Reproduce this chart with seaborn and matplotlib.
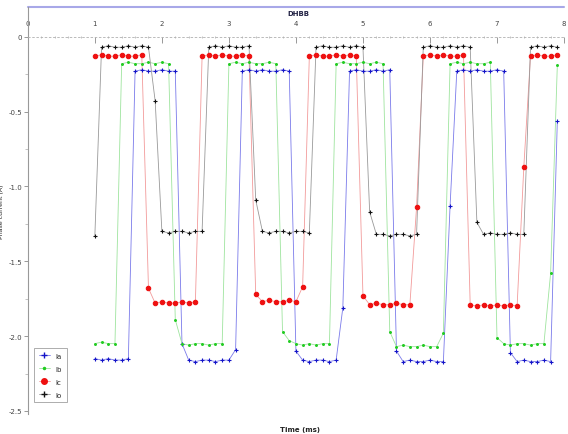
import numpy as np
import pandas as pd
import seaborn as sns
import matplotlib
matplotlib.use('Agg')
import matplotlib.pyplot as plt
from matplotlib.lines import Line2D

# sample times (s), one sample every 0.1 s
t = np.round(np.arange(1.0, 8.0, 0.1), 1)

series_names = ['Ia', 'Ib', 'Ic', 'Io']

ia = [-2.15, -2.16, -2.15, -2.16, -2.16, -2.15,
      -0.23, -0.22, -0.23, -0.23, -0.22, -0.23, -0.23,
      -2.05,
      -2.16, -2.17, -2.16, -2.16, -2.17, -2.16, -2.16,
      -2.09,
      -0.23, -0.22, -0.23, -0.22, -0.23, -0.23, -0.22, -0.23,
      -2.10,
      -2.16, -2.17, -2.16, -2.16, -2.17, -2.16,
      -1.81,
      -0.23, -0.22, -0.23, -0.23, -0.22, -0.23, -0.22,
      -2.10,
      -2.17, -2.16, -2.17, -2.17, -2.16, -2.17, -2.17,
      -1.13,
      -0.23, -0.22, -0.23, -0.22, -0.23, -0.23, -0.22, -0.23,
      -2.11,
      -2.17, -2.16, -2.17, -2.17, -2.16, -2.17,
      -0.56]

ib = [-2.05, -2.04, -2.05, -2.05,
      -0.18, -0.17, -0.18, -0.18, -0.17, -0.18, -0.17, -0.18,
      -1.89,
      -2.05, -2.06, -2.05, -2.05, -2.06, -2.05, -2.05,
      -0.18, -0.17, -0.18, -0.17, -0.18, -0.18, -0.17, -0.18,
      -1.97, -2.03,
      -2.05, -2.06, -2.05, -2.06, -2.05, -2.05,
      -0.18, -0.17, -0.18, -0.18, -0.17, -0.18, -0.17, -0.18,
      -1.97,
      -2.07, -2.06, -2.07, -2.07, -2.06, -2.07, -2.07,
      -1.98,
      -0.18, -0.17, -0.18, -0.17, -0.18, -0.18, -0.17,
      -2.01,
      -2.05, -2.06, -2.05, -2.05, -2.06, -2.05, -2.05,
      -1.58, -0.19]

ic = [-0.13, -0.12, -0.13, -0.13, -0.12, -0.13, -0.13, -0.12,
      -1.68,
      -1.78, -1.77, -1.78, -1.78, -1.77, -1.78, -1.77,
      -0.13, -0.12, -0.13, -0.12, -0.13, -0.13, -0.12, -0.13,
      -1.72,
      -1.77, -1.76, -1.77, -1.77, -1.76, -1.77,
      -1.67,
      -0.13, -0.12, -0.13, -0.13, -0.12, -0.13, -0.12, -0.13,
      -1.73,
      -1.79, -1.78, -1.79, -1.79, -1.78, -1.79, -1.79,
      -1.14,
      -0.13, -0.12, -0.13, -0.12, -0.13, -0.13, -0.12,
      -1.79, -1.80, -1.79, -1.80, -1.79, -1.80, -1.79, -1.80,
      -0.87,
      -0.13, -0.12, -0.13, -0.13, -0.12]

io = [-1.33,
      -0.07, -0.06, -0.07, -0.07, -0.06, -0.07, -0.06, -0.07,
      -0.43,
      -1.30, -1.31, -1.30, -1.30, -1.31, -1.30, -1.30,
      -0.07, -0.06, -0.07, -0.06, -0.07, -0.07, -0.06,
      -1.09,
      -1.30, -1.31, -1.30, -1.30, -1.31, -1.30, -1.30, -1.31,
      -0.07, -0.06, -0.07, -0.07, -0.06, -0.07, -0.06, -0.07,
      -1.17,
      -1.32, -1.32, -1.33, -1.32, -1.32, -1.33, -1.32,
      -0.07, -0.06, -0.07, -0.07, -0.06, -0.07, -0.06, -0.07,
      -1.24,
      -1.32, -1.31, -1.32, -1.32, -1.31, -1.32, -1.32,
      -0.07, -0.06, -0.07, -0.06, -0.07]

frames = []
for name, vals in zip(series_names, [ia, ib, ic, io]):
    frames.append(pd.DataFrame({'t': t, 'I': vals, 'ch': name}))
df = pd.concat(frames, ignore_index=True)

line_cols = {'Ia': '#7a7aea', 'Ib': '#9ee49e', 'Ic': '#f29a9a', 'Io': '#999999'}
mark_cols = {'Ia': '#1414c8', 'Ib': '#22cc22', 'Ic': '#ee1010', 'Io': '#111111'}
marks = {'Ia': '+', 'Ib': '.', 'Ic': 'o', 'Io': '+'}
sizes = {'Ia': 9, 'Ib': 7, 'Ic': 10, 'Io': 9}

sns.set_style('white')
plt.rcParams['font.family'] = ['DejaVu Sans']

fig = plt.figure(figsize=(5.68, 4.35), dpi=100)
ax = fig.add_axes([0.049, 0.046, 0.944, 0.936])

for name in series_names:
    d = df[df.ch == name]
    sns.lineplot(data=d, x='t', y='I', ax=ax, color=line_cols[name],
                 lw=0.6, estimator=None, sort=False, legend=False)
    sns.scatterplot(data=d, x='t', y='I', ax=ax, color=mark_cols[name],
                    marker=marks[name], s=sizes[name], linewidth=0.8,
                    edgecolor=mark_cols[name], legend=False, zorder=3)

ax.set_xlim(0, 8)
ax.set_ylim(-2.52, 0.2)

# x axis sits on I = 0 with labels above it
ax.spines['top'].set_position(('data', 0))
ax.spines['top'].set_color('#b0b0b0')
ax.spines['top'].set_linestyle((0, (2, 3)))
ax.spines['top'].set_linewidth(0.6)
ax.spines['bottom'].set_visible(False)
ax.spines['right'].set_visible(False)
ax.spines['left'].set_color('#999999')
ax.spines['left'].set_linewidth(0.8)
ax.xaxis.set_ticks_position('top')
ax.xaxis.set_label_position('top')
ax.set_xticks(np.arange(0, 9, 1))
ax.set_xticks(np.arange(0, 8.01, 0.2), minor=True)
ax.set_xticklabels([str(i) for i in range(9)])
ax.tick_params(axis='x', which='major', length=4, width=0.6, color='#888888',
               labelsize=5, labelcolor='#444444', direction='in', pad=8)
ax.tick_params(axis='x', which='minor', length=2, width=0.5, color='#aaaaaa',
               direction='inout')

ax.set_yticks([0, -0.5, -1.0, -1.5, -2.0, -2.5])
ax.set_yticks([-0.25, -0.75, -1.25, -1.75, -2.25], minor=True)
ax.set_yticklabels(['0', '-0.5', '-1.0', '-1.5', '-2.0', '-2.5'])
ax.tick_params(axis='y', which='major', left=True, length=3, width=0.6,
               color='#888888', labelsize=5, labelcolor='#444444', pad=1)
ax.tick_params(axis='y', which='minor', left=True, length=2, width=0.5,
               color='#aaaaaa')
ax.set_xlabel('')
ax.set_ylabel('Phase current (A)', fontsize=4.5, color='#222222', labelpad=3)

# top border band and title
ax.axhline(0.2, color='#a8a8e8', lw=1.5, clip_on=False)
fig.text(0.525, 0.968, 'DHBB', fontsize=5, color='#222244', ha='center', va='center',
         fontweight='bold')
fig.text(0.528, 0.012, 'Time (ms)', fontsize=5, color='#222222', ha='center',
         va='center', fontweight='bold')

handles = [Line2D([0], [0], color=line_cols[n], lw=0.6, marker=marks[n],
                  markersize=4 if n != 'Ib' else 3, markerfacecolor=mark_cols[n],
                  markeredgecolor=mark_cols[n]) for n in series_names]
leg = ax.legend(handles, series_names, loc='lower left', bbox_to_anchor=(0.005, 0.02),
                fontsize=5, frameon=True, fancybox=False, edgecolor='#888888',
                handlelength=1.6, borderpad=0.7, labelspacing=1.0)
leg.get_frame().set_linewidth(0.6)

fig.savefig('out.png', dpi=100)
